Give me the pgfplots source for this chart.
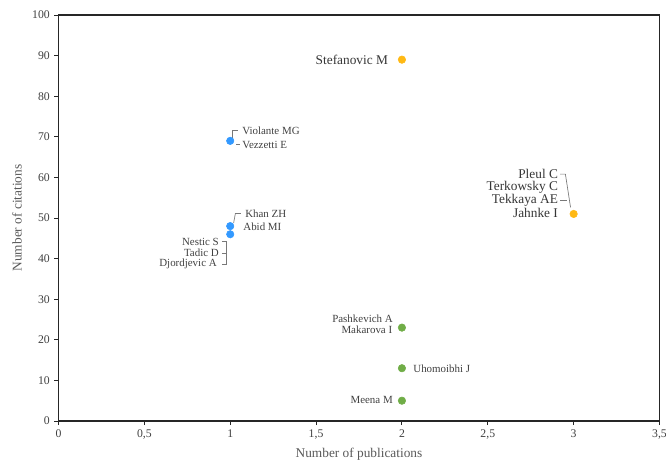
\documentclass[border=0pt]{standalone}
\usepackage{pgfplots}
\pgfplotsset{compat=1.18}
\usepackage{fontspec}
\setmainfont{Liberation Serif}
\definecolor{cblue}{RGB}{51,153,255}
\definecolor{corange}{RGB}{255,185,20}
\definecolor{cgreen}{RGB}{112,173,71}
\definecolor{ctxt}{RGB}{64,64,64}
\definecolor{clab}{RGB}{89,89,89}
\definecolor{cline}{RGB}{120,120,120}
\begin{document}
\begin{tikzpicture}
\begin{axis}[
  scale only axis,
  width=450.75pt, height=304.5pt,
  xmin=0, xmax=3.5, ymin=0, ymax=100,
  xtick={0,0.5,1,1.5,2,2.5,3,3.5},
  ytick={0,10,...,100},
  /pgf/number format/.cd, use comma, 1000 sep={},
  /pgf/number format/assume math mode=true,
  /pgfplots/.cd,
  tick align=outside,
  tick pos=left,
  major tick length=3pt,
  axis line style={draw=black!85, line width=0.9pt},
  every tick/.style={black!85, line width=0.7pt},
  tick label style={font=\fontsize{8.8}{10}\selectfont, text=ctxt},
  xlabel={Number of publications},
  ylabel={Number of citations},
  label style={font=\fontsize{10}{11}\selectfont, text=clab},
  xlabel style={yshift=0pt},
  ylabel style={yshift=1pt},
  clip=false,
]
\coordinate (O) at (rel axis cs:0,0);
\addplot[only marks, mark=*, mark size=2.8pt, color=cblue] coordinates {(1,69) (1,48) (1,46)};
\addplot[only marks, mark=*, mark size=2.8pt, color=corange] coordinates {(2,89) (3,51)};
\addplot[only marks, mark=*, mark size=2.8pt, color=cgreen] coordinates {(2,23) (2,13) (2,5)};

% leader lines
\draw[cline, line width=0.5pt] (axis cs:1.012,69.8) -- (axis cs:1.012,71.6) -- (axis cs:1.045,71.6);
\draw[cline, line width=0.5pt] (axis cs:1.035,68.1) -- (axis cs:1.058,68.1);
\draw[cline, line width=0.5pt] (axis cs:1.02,48.8) -- (axis cs:1.03,51.1) -- (axis cs:1.062,51.1);
\draw[cline, line width=0.5pt] (axis cs:0.952,44.2) -- (axis cs:0.98,44.2) -- (axis cs:0.98,38.7) -- (axis cs:0.952,38.7);
\draw[cline, line width=0.5pt] (axis cs:0.952,41.4) -- (axis cs:0.98,41.4);
\draw[cline, line width=0.5pt] (axis cs:2.921,60.8) -- (axis cs:2.952,60.8) -- (axis cs:2.982,52.6);
\draw[cline, line width=0.5pt] (axis cs:2.921,54.4) -- (axis cs:2.962,54.4);

\tikzset{lab/.style={font=\fontsize{8.2}{9}\selectfont, text=ctxt, inner sep=0pt},
         labbig/.style={font=\fontsize{10}{11}\selectfont, text=ctxt!85!black, inner sep=0pt}}
\node[labbig, anchor=east] at (axis cs:1.92,89) {Stefanovic M};
\node[lab, anchor=west] at (axis cs:1.069,71.4) {Violante MG};
\node[lab, anchor=west] at (axis cs:1.069,68.0) {Vezzetti E};
\node[lab, anchor=west] at (axis cs:1.086,51.0) {Khan ZH};
\node[lab, anchor=west] at (axis cs:1.075,47.9) {Abid MI};
\node[lab, anchor=east] at (axis cs:0.935,44.2) {Nestic S};
\node[lab, anchor=east] at (axis cs:0.935,41.4) {Tadic D};
\node[lab, anchor=east] at (axis cs:0.923,38.7) {Djordjevic A};
\node[labbig, anchor=east] at (axis cs:2.91,60.9) {Pleul C};
\node[labbig, anchor=east] at (axis cs:2.91,57.6) {Terkowsky C};
\node[labbig, anchor=east] at (axis cs:2.91,54.4) {Tekkaya AE};
\node[labbig, anchor=east] at (axis cs:2.91,51.2) {Jahnke I};
\node[lab, anchor=east] at (axis cs:1.948,25.1) {Pashkevich A};
\node[lab, anchor=east] at (axis cs:1.945,22.4) {Makarova I};
\node[lab, anchor=west] at (axis cs:2.065,12.8) {Uhomoibhi J};
\node[lab, anchor=east] at (axis cs:1.948,5.1) {Meena M};
\end{axis}
\pgfresetboundingbox
\path (O) ++(-43.875pt,-30pt) rectangle ++(499.5pt,345.75pt);
\end{tikzpicture}
\end{document}
